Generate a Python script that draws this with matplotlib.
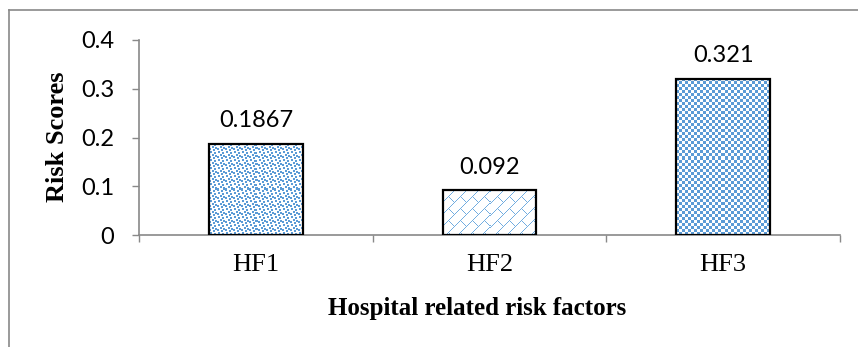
import numpy as np
import matplotlib
matplotlib.use('Agg')
import matplotlib.pyplot as plt
from matplotlib.lines import Line2D

# --------------------------
# data
# --------------------------
factors = ['HF1', 'HF2', 'HF3']
scores = [0.1867, 0.092, 0.321]
score_labels = ['0.1867', '0.092', '0.321']
y_ticks = [0, 0.1, 0.2, 0.3, 0.4]
y_tick_labels = ['0', '0.1', '0.2', '0.3', '0.4']

blue = np.array([0.36, 0.61, 0.84])
light_blue = np.array([0.45, 0.68, 0.88])
axis_gray = '#898989'

# small pixel tiles used as fill patterns (1 = blue pixel)
confetti = np.zeros((8, 8))
for r, c in [(0, 1), (1, 5), (3, 3), (4, 6), (5, 0), (6, 4)]:
    confetti[r:r + 2, c:c + 2] = 1

brick = np.zeros((12, 12))
for r in range(12):
    brick[r, 11 - r] = 1
for k in range(6):
    brick[6 + k, 5 + k] = 1

checker = np.kron(np.array([[1, 0], [0, 1]]), np.ones((3, 3)))

patterns = [(confetti, blue), (brick, light_blue), (checker, blue)]

fig = plt.figure(figsize=(8.58, 3.47), dpi=100)
ax = fig.add_axes([139 / 858, 1 - 235 / 347, (840 - 139) / 858, (235 - 40) / 347])

x = np.arange(len(factors))
bars = ax.bar(x, scores, width=0.4, facecolor='none', edgecolor='black', linewidth=1.6, zorder=3)

ax.set_xlim(-0.5, 2.5)
ax.set_ylim(0, 0.4)

# fill each bar with a pixel pattern clipped to the bar
fig.canvas.draw()
for bar, (tile, col) in zip(bars, patterns):
    x0, y0 = bar.get_x(), 0
    x1, y1 = bar.get_x() + bar.get_width(), bar.get_height()
    p0 = ax.transData.transform((x0, y0))
    p1 = ax.transData.transform((x1, y1))
    w_px = int(round(p1[0] - p0[0]))
    h_px = int(round(p1[1] - p0[1]))
    reps = (h_px // tile.shape[0] + 2, w_px // tile.shape[1] + 2)
    mask = np.tile(tile, reps)[:h_px, :w_px]
    img = np.ones((h_px, w_px, 3))
    img[mask == 1] = col
    im = ax.imshow(img, extent=(x0, x1, y0, y1), origin='upper', aspect='auto',
                   interpolation='nearest', zorder=2)
    im.set_clip_path(bar)

ax.set_xlim(-0.5, 2.5)
ax.set_ylim(0, 0.4)

for xi, s, lab in zip(x, scores, score_labels):
    ax.annotate(lab, (xi, s), xytext=(0, 9), textcoords='offset points',
                ha='center', va='bottom', fontsize=17, family='Lato')

for sp in ['top', 'right']:
    ax.spines[sp].set_visible(False)
for sp in ['bottom', 'left']:
    ax.spines[sp].set_color(axis_gray)
    ax.spines[sp].set_linewidth(1.2)

ax.set_yticks(y_ticks)
ax.set_yticklabels(y_tick_labels, family='Lato', fontsize=17)
ax.tick_params(axis='y', direction='out', length=5, width=1, color=axis_gray, pad=13)

ax.set_xticks(x)
ax.set_xticklabels(factors, family='Liberation Serif', fontsize=19)
ax.set_xticks([-0.5, 0.5, 1.5, 2.5], minor=True)
ax.tick_params(axis='x', which='major', length=0, pad=14)
ax.tick_params(axis='x', which='minor', direction='out', length=5, width=1, color=axis_gray)

fig.text(477 / 858, 1 - 309 / 347, 'Hospital related risk factors', ha='center', va='center',
         family='Liberation Serif', fontweight='bold', fontsize=18)
fig.text(58 / 858, 1 - 137 / 347, 'Risk Scores', ha='center', va='center', rotation=90,
         family='Liberation Serif', fontweight='bold', fontsize=19)

# outer chart frame (only top and left edges visible in the crop)
fig.add_artist(Line2D([8.5 / 858, 8.5 / 858], [0, 1 - 10 / 347], transform=fig.transFigure,
                      color=axis_gray, linewidth=1.2))
fig.add_artist(Line2D([8.5 / 858, 1], [1 - 10 / 347, 1 - 10 / 347], transform=fig.transFigure,
                      color=axis_gray, linewidth=1.2))

plt.savefig('out.png', dpi=100)
